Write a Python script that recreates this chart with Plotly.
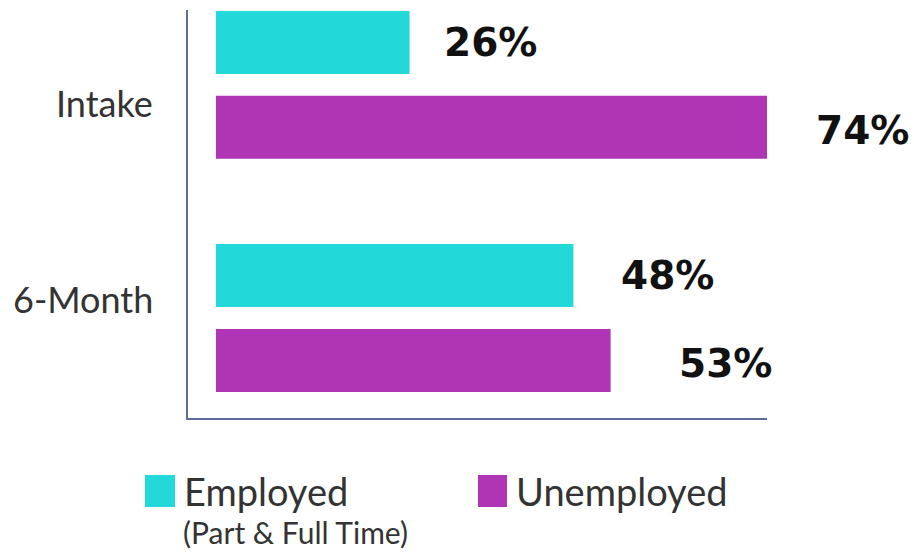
import plotly.graph_objects as go

# --- data -------------------------------------------------------------
stages = ["Intake", "6-Month"]
employed = [26, 48]
unemployed = [74, 53]
series_names = ["Employed", "Unemployed"]

# --- styling ------------------------------------------------------------
CYAN = "#22D8D9"
PURPLE = "#B035B5"
AXIS = "#5d6d98"
TEXT = "#333333"
LABEL_FONT = "Lato"
VALUE_FONT = "DejaVu Sans"

W, H = 914, 552
M_L, M_R, M_T, M_B = 188, 147, 10, 134
PW, PH = W - M_L - M_R, H - M_T - M_B

Y_RANGE = [1.429, -0.321]          # reversed category axis
BARGAP, BARGROUPGAP = 0.272, 0.258
PX_PER_CAT = PH / (Y_RANGE[0] - Y_RANGE[1])
SLOT = (1 - BARGAP) / 2            # width reserved for each trace in a group
HALF_SLOT_PX = SLOT / 2 * PX_PER_CAT


def px_x(px):
    """pixel column -> paper x"""
    return (px - M_L) / PW


def px_y(py):
    """pixel row -> paper y"""
    return (H - M_B - py) / PH


fig = go.Figure()
fig.add_trace(go.Bar(y=stages, x=employed, orientation="h", name=series_names[0],
                     marker=dict(color=CYAN, line=dict(width=0))))
fig.add_trace(go.Bar(y=stages, x=unemployed, orientation="h", name=series_names[1],
                     marker=dict(color=PURPLE, line=dict(width=0))))

# value labels beside each bar (first trace sits above the category centre)
label_shift = [[32, 46], [47, 66]]
for t, vals in enumerate([employed, unemployed]):
    for i, (stage, v) in enumerate(zip(stages, vals)):
        fig.add_annotation(
            x=v, y=stage, xref="x", yref="y",
            text=f"<b>{v}%</b>", showarrow=False, xanchor="left", yanchor="middle",
            xshift=label_shift[t][i],
            yshift=HALF_SLOT_PX if t == 0 else -HALF_SLOT_PX - 3,
            font=dict(family=VALUE_FONT, size=39, color="#111111"),
        )

# category labels on the left
for stage, ys in zip(stages, [-18, 19]):
    fig.add_annotation(
        x=0, y=stage, xref="paper", yref="y", text=stage, showarrow=False,
        xanchor="right", yanchor="middle", xshift=-33, yshift=ys,
        font=dict(family=LABEL_FONT, size=36, color=TEXT),
    )

# legend drawn by hand: large swatches with labels
legend_items = [
    (series_names[0], CYAN, 145, 175, 182),
    (series_names[1], PURPLE, 478, 507, 514),
]
for name, color, x0, x1, tx in legend_items:
    fig.add_shape(type="rect", xref="paper", yref="paper",
                  x0=px_x(x0), x1=px_x(x1), y0=px_y(507), y1=px_y(475),
                  fillcolor=color, line=dict(width=0))
    fig.add_annotation(x=px_x(tx), y=px_y(491), xref="paper", yref="paper",
                       text=name, showarrow=False, xanchor="left", yanchor="middle",
                       font=dict(family=LABEL_FONT, size=38, color=TEXT))
fig.add_annotation(x=px_x(181), y=px_y(532), xref="paper", yref="paper",
                   text="(Part & Full Time)", showarrow=False,
                   xanchor="left", yanchor="middle",
                   font=dict(family=LABEL_FONT, size=30, color=TEXT))

fig.update_layout(
    width=W, height=H,
    margin=dict(l=M_L, r=M_R, t=M_T, b=M_B, pad=0),
    paper_bgcolor="white", plot_bgcolor="white",
    barmode="group", bargap=BARGAP, bargroupgap=BARGROUPGAP,
    showlegend=False,
    xaxis=dict(range=[-3.75, 74], showgrid=False, zeroline=False,
               showticklabels=False, ticks="", showline=True,
               linecolor=AXIS, linewidth=2),
    yaxis=dict(type="category", range=Y_RANGE, showgrid=False,
               zeroline=False, showticklabels=False, ticks="",
               showline=True, linecolor=AXIS, linewidth=2),
)

fig.write_html("out.html")
